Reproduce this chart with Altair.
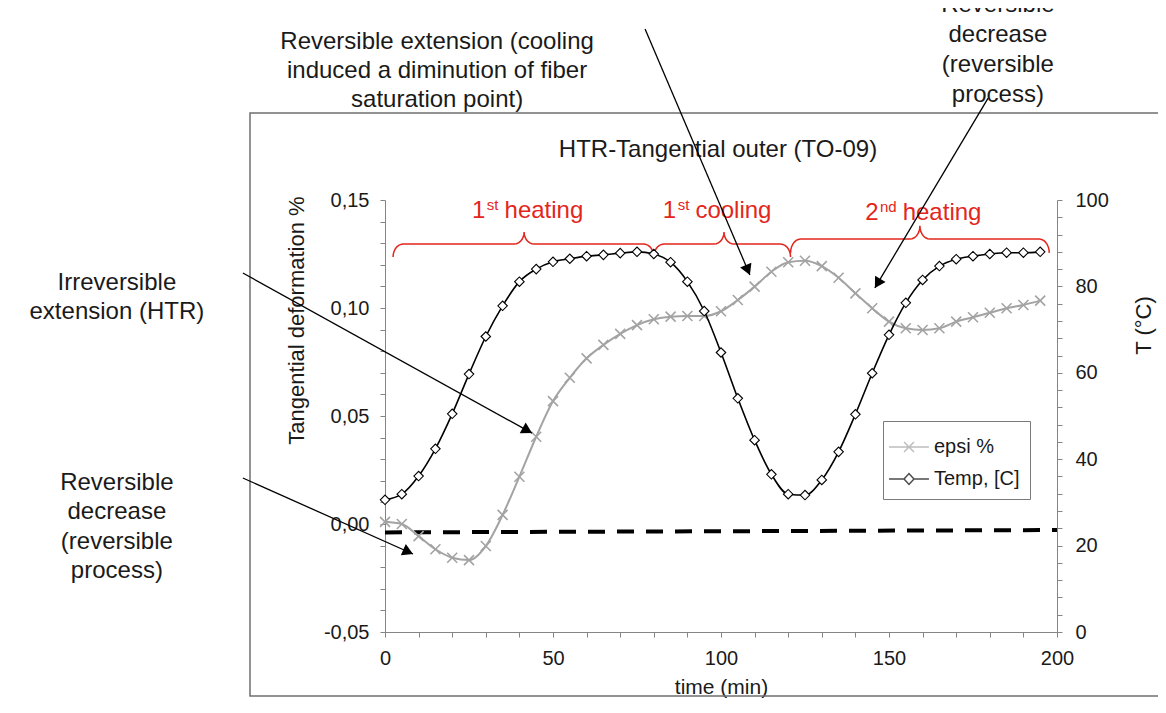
import math
import altair as alt
import pandas as pd

# ---------------- values ----------------
TIME = list(range(0, 200, 5))
EPSI = [0.0010, 0.0000, -0.0056, -0.0117, -0.0156, -0.0167, -0.0102, 0.0042,
        0.0219, 0.0404, 0.0569, 0.0677, 0.0767, 0.0829, 0.0880, 0.0921,
        0.0948, 0.0960, 0.0963, 0.0963, 0.0985, 0.1037, 0.1099, 0.1168,
        0.1212, 0.1219, 0.1194, 0.1140, 0.1068, 0.0999, 0.0937, 0.0906,
        0.0898, 0.0906, 0.0937, 0.0957, 0.0978, 0.0999, 0.1014, 0.1034]
TEMP = [30.6, 31.9, 36.1, 42.4, 50.5, 59.7, 68.4, 75.5, 81.1, 84.0,
        85.7, 86.4, 87.0, 87.3, 87.7, 88.0, 87.5, 85.6, 81.1, 74.3,
        64.7, 54.1, 44.4, 36.5, 31.9, 31.7, 35.2, 41.7, 50.4, 59.9,
        68.8, 76.2, 81.5, 84.7, 86.3, 87.0, 87.5, 87.8, 87.8, 88.0]
SERIES = ["epsi %", "Temp, [C]"]
TITLE = "HTR-Tangential outer (TO-09)"
TITLE_T = [99.1]
TITLE_E = [0.1731]

# dashed reference line (left axis units)
BASE_T = [0, 200]
BASE_E = [-0.0039, -0.0028]

# tick values / labels
X_TICKS = list(range(0, 201, 10))
YL_TICKS = [round(-0.05 + 0.01 * i, 2) for i in range(21)]
YR_TICKS = list(range(0, 101, 4))

# phase braces (time spans) and their labels
BRACE_START = [2.4, 80.0, 120.7]
BRACE_TIP = [41.4, 100.9, 159.2]
BRACE_END = [80.0, 120.7, 197.7]
BRACE_LINE = [0.1296, 0.1296, 0.1319]
BRACE_PEAK = [0.1352, 0.1352, 0.1380]
BRACE_FOOT = [0.1236, 0.1236, 0.1255]
PHASE_NUM = ["1", "1", "2"]
PHASE_SUP = ["st", "st", "nd"]
PHASE_WORD = ["heating", "cooling", "heating"]
PHASE_T = [25.9, 82.7, 142.9]
PHASE_E = [0.1415, 0.1415, 0.1407]

# annotation texts and arrows (anchors in data units; e = first text line)
NOTE_TEXT = [
    "Reversible extension (cooling\ninduced a diminution of fiber\nsaturation point)",
    "Reversible\ndecrease\n(reversible\nprocess)",
    "Irreversible\nextension (HTR)",
    "Reversible\ndecrease\n(reversible\nprocess)",
]
NOTE_T = [15.5, 182.4, -79.8, -79.8]
NOTE_E = [0.2231, 0.2403, 0.1116, 0.0190]
NOTE_LH = [29, 30, 29, 29.5]
ARROW_T0 = [77.4, 179.5, -42.3, -42.3]
ARROW_E0 = [0.2292, 0.1972, 0.1162, 0.0213]
ARROW_T1 = [108.6, 145.8, 43.75, 8.33]
ARROW_E1 = [0.1153, 0.1093, 0.0421, -0.0139]

# ---------------- layout / style ----------------
W, H = 672, 432
T_DOM = [0, 200]
E_DOM = [-0.05, 0.15]
C_DOM = [0, 100]
PX_T = W / (T_DOM[1] - T_DOM[0])
PX_E = H / (E_DOM[1] - E_DOM[0])
FONT = "Liberation Sans, Arial, sans-serif"
TXT = "#1a1a1a"
AX = "#858585"
GREY = "#a3a3a3"
RED = "#e3261c"
FRAME = "#6f6f6f"
PATH_X = "M-1,-1L1,1M-1,1L1,-1"
LEG_X = "M-1.33,0L1.33,0M-0.33,-0.33L0.33,0.33M-0.33,0.33L0.33,-0.33"
LEG_D = "M-1.33,0L-0.33,0M0.33,0L1.33,0M-0.33,0L0,-0.36L0.33,0L0,0.36Z"
HEAD_SIZE = 150

xs = alt.Scale(domain=T_DOM, nice=False, zero=False)
yl = alt.Scale(domain=E_DOM, nice=False, zero=False)
yr = alt.Scale(domain=C_DOM, nice=False, zero=False)

x_axis = alt.Axis(values=X_TICKS,
                  labelExpr="datum.value % 50 == 0 ? '' + datum.value : ''",
                  grid=False, domainColor=AX, tickColor=AX, tickSize=5,
                  labelFont=FONT, labelFontSize=20, labelColor=TXT, labelPadding=11,
                  labelFlush=False, labelOverlap=False,
                  title="time (min)", titleFont=FONT, titleFontSize=21,
                  titleFontWeight="normal", titleColor=TXT, titlePadding=8)
yl_axis = alt.Axis(values=YL_TICKS,
                   labelExpr="abs(round(datum.value*100)) % 5 == 0 ? (datum.value < -0.0001 ? '-' : '') + replace(format(abs(datum.value), '.2f'), '.', ',') : ''",
                   grid=False, domainColor=AX, tickColor=AX, tickSize=5,
                   labelFont=FONT, labelFontSize=20, labelColor=TXT, labelPadding=11,
                   labelFlush=False, labelOverlap=False,
                   title="Tangential deformation %", titleFont=FONT, titleFontSize=22,
                   titleFontWeight="normal", titleColor=TXT, titleAngle=270,
                   titleX=-89, titleY=120, titleAlign="center", titleBaseline="middle")
yr_axis = alt.Axis(orient="right", values=YR_TICKS,
                   labelExpr="datum.value % 20 == 0 ? '' + datum.value : ''",
                   grid=False, domainColor=AX, tickColor=AX, tickSize=5,
                   labelFont=FONT, labelFontSize=20, labelColor=TXT, labelPadding=13,
                   labelFlush=False, labelOverlap=False,
                   title="T (°C)", titleFont=FONT, titleFontSize=22,
                   titleFontWeight="normal", titleColor=TXT, titleAngle=270,
                   titleX=86, titleY=125, titleAlign="center", titleBaseline="middle")


def X(f):
    return alt.X(f"{f}:Q", scale=xs, axis=x_axis)


def YL(f):
    return alt.Y(f"{f}:Q", scale=yl, axis=yl_axis)


def YR(f):
    return alt.Y(f"{f}:Q", scale=yr, axis=yr_axis)


series_df = pd.DataFrame({"t": TIME, "epsi": EPSI, "temp": TEMP})
base_df = pd.DataFrame({"t": BASE_T, "e": BASE_E})

# braces
rows = []
for b in range(len(BRACE_START)):
    t0, tm, t1 = BRACE_START[b], BRACE_TIP[b], BRACE_END[b]
    el, ep, ef = BRACE_LINE[b], BRACE_PEAK[b], BRACE_FOOT[b]
    rt = 10 / PX_T
    n = 8
    pts = []
    for i in range(n):
        a = math.pi / 2 * i / (n - 1)
        pts.append((t0 + rt * (1 - math.cos(a)), ef + (el - ef) * math.sin(a)))
    for i in range(n):
        a = math.pi / 2 * i / (n - 1)
        pts.append((tm - rt + rt * math.sin(a), el + (ep - el) * (1 - math.cos(a))))
    for i in range(n):
        a = math.pi / 2 * i / (n - 1)
        pts.append((tm + rt * (1 - math.cos(a)), ep + (el - ep) * math.sin(a)))
    for i in range(n):
        a = math.pi / 2 * i / (n - 1)
        pts.append((t1 - rt + rt * math.sin(a), el + (ef - el) * (1 - math.cos(a))))
    for k, (tt, ee) in enumerate(pts):
        rows.append({"b": b, "k": k, "t": tt, "e": ee})
brace_df = pd.DataFrame(rows)

# phase labels with superscripts (offsets from character widths)
W_NUM = 0.556 * 24
SUP_W = {"st": (0.5 + 0.278) * 15, "nd": (0.556 + 0.556) * 15}
num_df = pd.DataFrame({"t": PHASE_T, "e": PHASE_E, "label": PHASE_NUM})
sup_df = pd.DataFrame({"t": [t + (W_NUM + 1.5) / PX_T for t in PHASE_T],
                       "e": PHASE_E, "label": PHASE_SUP})
word_df = pd.DataFrame({"t": [t + (W_NUM + 1.5 + SUP_W[s] + 6) / PX_T
                              for t, s in zip(PHASE_T, PHASE_SUP)],
                        "e": PHASE_E, "label": PHASE_WORD})

# arrows
arrow_df = pd.DataFrame({"t0": ARROW_T0, "e0": ARROW_E0, "t1": ARROW_T1, "e1": ARROW_E1})
head_rows = []
r = math.sqrt(HEAD_SIZE) / 2
h = math.sqrt(3) / 2 * r
for t0, e0, t1, e1 in zip(ARROW_T0, ARROW_E0, ARROW_T1, ARROW_E1):
    dx = (t1 - t0) * PX_T
    dy = -(e1 - e0) * PX_E
    ln = math.hypot(dx, dy)
    ang = math.degrees(math.atan2(dx, -dy)) % 360
    cx = t1 - (h * dx / ln) / PX_T
    cy = e1 + (h * dy / ln) / PX_E
    head_rows.append({"t": cx, "e": cy, "ang": ang})
head_df = pd.DataFrame(head_rows)

# ---------------- layers ----------------
frame = alt.Chart(alt.Data(values=[{"k": 1}])).mark_rect(
    fill="white", fillOpacity=0, stroke=FRAME, strokeWidth=1.5
).encode(x=alt.value(-135), x2=alt.value(800), y=alt.value(-87), y2=alt.value(496))

title_df = pd.DataFrame({"t": TITLE_T, "e": TITLE_E, "label": [TITLE]})
title_txt = alt.Chart(title_df).mark_text(font=FONT, fontSize=24, color=TXT, align="center",
                                          baseline="middle").encode(
    x=X("t"), y=YL("e"), text="label:N")

baseline = alt.Chart(base_df).mark_line(color="black", strokeWidth=4, strokeDash=[17, 12]).encode(
    x=X("t"), y=YL("e"))

epsi_line = alt.Chart(series_df).mark_line(color=GREY, strokeWidth=2, interpolate="monotone").encode(
    x=X("t"), y=YL("epsi"))
epsi_pts = alt.Chart(series_df).mark_point(shape=PATH_X, size=100, filled=False, color=GREY,
                                           strokeWidth=1.6, opacity=1).encode(
    x=X("t"), y=YL("epsi"))

braces = alt.Chart(brace_df).mark_line(color=RED, strokeWidth=1.5).encode(
    x=X("t"), y=YL("e"), detail="b:N", order="k:Q")

num_txt = alt.Chart(num_df).mark_text(font=FONT, fontSize=24, color=RED, align="left",
                                      baseline="alphabetic").encode(
    x=X("t"), y=YL("e"), text="label:N")
sup_txt = alt.Chart(sup_df).mark_text(font=FONT, fontSize=15, color=RED, align="left",
                                      baseline="alphabetic", dy=-8).encode(
    x=X("t"), y=YL("e"), text="label:N")
word_txt = alt.Chart(word_df).mark_text(font=FONT, fontSize=24, color=RED, align="left",
                                        baseline="alphabetic").encode(
    x=X("t"), y=YL("e"), text="label:N")

arrows = alt.Chart(arrow_df).mark_rule(color="black", strokeWidth=1.3).encode(
    x=X("t0"), y=YL("e0"), x2="t1:Q", y2="e1:Q")
heads = alt.Chart(head_df).mark_point(shape="triangle-up", size=HEAD_SIZE, filled=True,
                                      color="black", opacity=1).encode(
    x=X("t"), y=YL("e"), angle=alt.Angle("ang:Q", scale=None))

note_layers = []
for txt, t, e, lh in zip(NOTE_TEXT, NOTE_T, NOTE_E, NOTE_LH):
    ndf = pd.DataFrame({"t": [t], "e": [e], "label": [txt]})
    note_layers.append(
        alt.Chart(ndf).mark_text(font=FONT, fontSize=24, color=TXT, align="center",
                                 baseline="middle", lineBreak="\n", lineHeight=lh).encode(
            x=X("t"), y=YL("e"), text="label:N"))

legend_df = pd.DataFrame({"series": SERIES, "t": [0, 0], "e": [0, 0]})
leg = alt.Legend(title=None, orient="none", legendX=498, legendY=221, padding=10,
                 strokeColor="#7a7a7a", fillColor="white", labelFont=FONT,
                 labelFontSize=20, labelColor=TXT, symbolSize=900, symbolStrokeWidth=1.5,
                 labelOffset=9, rowPadding=6, symbolFillColor="white")
legend_layer = alt.Chart(legend_df).transform_filter("false").mark_point(
    filled=False, strokeWidth=1.5).encode(
    x=X("t"), y=YL("e"),
    color=alt.Color("series:N", scale=alt.Scale(domain=SERIES, range=[GREY, "black"]), legend=leg),
    shape=alt.Shape("series:N", scale=alt.Scale(domain=SERIES, range=[LEG_X, LEG_D]), legend=leg))

temp_line = alt.Chart(series_df).mark_line(color="black", strokeWidth=1.6, interpolate="monotone").encode(
    x=X("t"), y=YR("temp"))
temp_pts = alt.Chart(series_df).mark_point(shape="diamond", size=90, filled=True, fill="white",
                                           stroke="black", strokeWidth=1.1, opacity=1).encode(
    x=X("t"), y=YR("temp"))

left = alt.layer(frame, title_txt, baseline, epsi_line, epsi_pts, braces, num_txt, sup_txt,
                 word_txt, arrows, heads, *note_layers, legend_layer)
right = alt.layer(temp_line, temp_pts)

chart = alt.layer(left, right).resolve_scale(y="independent").properties(
    width=W, height=H,
    autosize=alt.AutoSizeParams(type="none"),
    padding={"left": 377, "top": 192, "right": 101, "bottom": 66},
    background="white",
).configure_view(strokeWidth=0)

chart.save("out.html", embed_options={"renderer": "svg", "actions": False})
